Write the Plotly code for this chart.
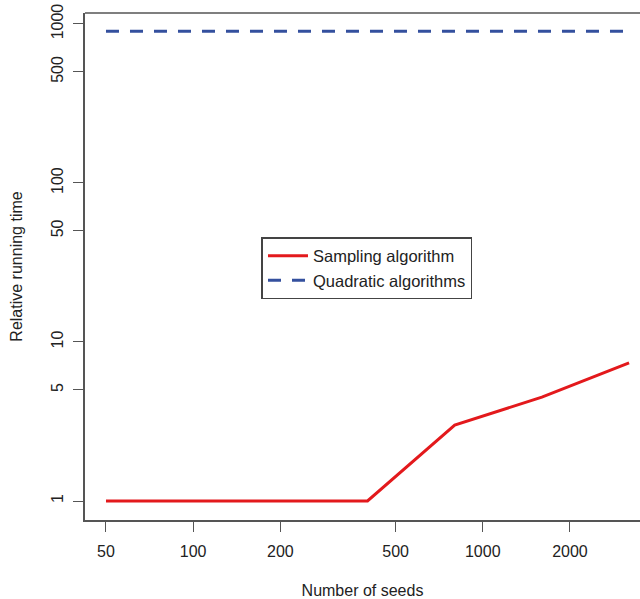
import plotly.graph_objects as go

seeds = [50, 100, 200, 400, 800, 1600, 3200]
sampling = [1, 1, 1, 1, 3.0, 4.5, 7.4]
quadratic = [900, 900, 900, 900, 900, 900, 900]

x_ticks = [50, 100, 200, 500, 1000, 2000]
y_ticks = [1, 5, 10, 50, 100, 500, 1000]

FONT = "Liberation Sans, Arial, sans-serif"
AX = "#555555"

fig = go.Figure()
fig.add_trace(go.Scatter(x=seeds, y=sampling, mode="lines", name="Sampling algorithm",
                         line=dict(color="#e3191c", width=3)))
fig.add_trace(go.Scatter(x=seeds, y=quadratic, mode="lines", name="Quadratic algorithms",
                         line=dict(color="#34509e", width=3, dash="13px,11px")))

fig.update_layout(
    width=640, height=599,
    margin=dict(l=85, r=0, t=13, b=79),
    paper_bgcolor="white", plot_bgcolor="white",
    font=dict(family=FONT, size=16, color="#222222"),
    showlegend=True,
    legend=dict(x=0.318, y=0.558, xanchor="left", yanchor="top",
                bordercolor="#444444", borderwidth=1.5, bgcolor="white",
                font=dict(size=16.5), tracegroupgap=0, itemwidth=40),
    xaxis=dict(type="log", range=[1.6265, 3.5429], tickvals=x_ticks,
               ticktext=[str(v) for v in x_ticks],
               showgrid=False, zeroline=False, showline=True, linecolor=AX, linewidth=1.5,
               ticks="outside", ticklen=10, tickcolor=AX, tickwidth=1.2,
               tickfont=dict(size=16), ticklabelstandoff=6,
               title=dict(text="Number of seeds", standoff=26, font=dict(size=16))),
    yaxis=dict(type="log", range=[-0.1195, 3.069], tickvals=y_ticks,
               ticktext=[str(v) for v in y_ticks], tickangle=-90,
               showgrid=False, zeroline=False, showline=True, linecolor=AX, linewidth=1.5,
               ticks="outside", ticklen=10, tickcolor=AX, tickwidth=1.2,
               tickfont=dict(size=16), ticklabelstandoff=4,
               title=dict(text="Relative running time", standoff=22, font=dict(size=16))),
    shapes=[dict(type="line", xref="paper", yref="paper", x0=0, x1=1, y0=1, y1=1,
                 line=dict(color=AX, width=1.5))],
)

fig.write_html("out.html")
